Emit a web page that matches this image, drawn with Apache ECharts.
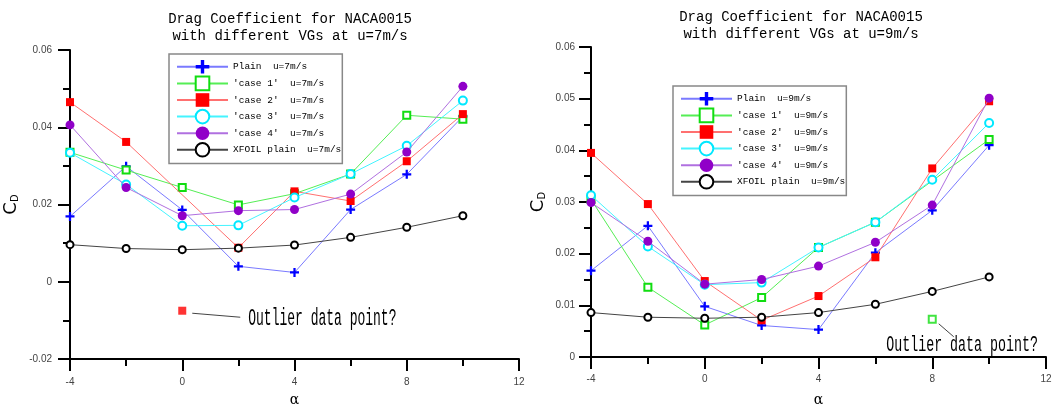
<!DOCTYPE html>
<html>
<head>
<meta charset="utf-8">
<script src="https://cdn.jsdelivr.net/npm/echarts@6/dist/echarts.min.js"></script>
<style>
html,body{margin:0;padding:0;background:#fff;}
#c{width:1055px;height:412px;}
</style>
</head>
<body>
<div id="c"></div>
<script>
// ---- data ----
const alphas = [-4, -2, 0, 2, 4, 6, 8, 10];

const names7 = ["Plain  u=7m/s", "'case 1'  u=7m/s", "'case 2'  u=7m/s", "'case 3'  u=7m/s", "'case 4'  u=7m/s", "XFOIL plain  u=7m/s"];
const plain7 = [0.0169, 0.0299, 0.0186, 0.0040, 0.0024, 0.0187, 0.0278, 0.0428];
const case1_7 = [0.0335, 0.0289, 0.0244, 0.0199, 0.0228, 0.0279, 0.0431, 0.0421];
const case2_7 = [0.0465, 0.0362, null, 0.0088, 0.0234, 0.0209, 0.0312, 0.0434];
const case3_7 = [0.0334, 0.0252, 0.0145, 0.0146, 0.0218, 0.0279, 0.0352, 0.0469];
const case4_7 = [0.0406, 0.0244, 0.0171, 0.0184, 0.0187, 0.0227, 0.0336, 0.0506];
const xfoil7 = [0.0096, 0.0086, 0.0083, 0.0087, 0.0095, 0.0115, 0.0141, 0.0171];
const outlierAlpha7 = [0];
const outlierCd7 = [-0.0075];

const names9 = ["Plain  u=9m/s", "'case 1'  u=9m/s", "'case 2'  u=9m/s", "'case 3'  u=9m/s", "'case 4'  u=9m/s", "XFOIL plain  u=9m/s"];
const plain9 = [0.0167, 0.0254, 0.0098, 0.0061, 0.0053, 0.0202, 0.0284, 0.0410];
const case1_9 = [0.0305, 0.0135, 0.0062, 0.0115, 0.0212, 0.0261, null, 0.0421];
const case2_9 = [0.0395, 0.0296, 0.0147, 0.0071, 0.0118, 0.0193, 0.0365, 0.0495];
const case3_9 = [0.0313, 0.0214, 0.0140, 0.0144, 0.0212, 0.0261, 0.0343, 0.0453];
const case4_9 = [0.0299, 0.0224, 0.0141, 0.0150, 0.0176, 0.0222, 0.0294, 0.0501];
const xfoil9 = [0.0086, 0.0077, 0.0075, 0.0077, 0.0086, 0.0102, 0.0127, 0.0155];
const outlierAlpha9 = [8];
const outlierCd9 = [0.0073];

const titles = ["Drag Coefficient for NACA0015\nwith different VGs at u=7m/s",
                "Drag Coefficient for NACA0015\nwith different VGs at u=9m/s"];
const annotationText = "Outlier data point?";

// ---- styles ----
const PLUS = 'path://M3,0H5V3H8V5H5V8H3V5H0V3H3Z';
const styles = [
  {symbol: PLUS, size: 9, marker: '#0000ff', line: '#7a7aff', bw: 0},
  {symbol: 'emptyRect', size: 7, marker: '#11dd11', line: '#55ee55', bw: 1.5},
  {symbol: 'rect', size: 8, marker: '#ff0000', line: '#ff7070', bw: 0},
  {symbol: 'emptyCircle', size: 8, marker: '#00e8ff', line: '#44f4ff', bw: 1.5},
  {symbol: 'circle', size: 9, marker: '#9000c8', line: '#b070e0', bw: 0},
  {symbol: 'emptyCircle', size: 7, marker: '#000000', line: '#444444', bw: 1}
];

function pairs(xs, ys) {
  const out = [];
  for (let i = 0; i < xs.length; i++) if (ys[i] !== null) out.push([xs[i], ys[i]]);
  return out;
}

function makeSeries(names, arrays, idx) {
  return arrays.map((arr, i) => ({
    type: 'line', name: names[i], xAxisIndex: idx, yAxisIndex: idx,
    data: pairs(alphas, arr),
    symbol: styles[i].symbol, symbolSize: styles[i].size, showSymbol: true,
    itemStyle: {color: styles[i].marker, borderColor: styles[i].marker, borderWidth: styles[i].bw},
    lineStyle: {color: styles[i].line, width: 1},
    emphasis: {disabled: true}, silent: true, z: 3 + i
  }));
}

function outlierSeries(xs, ys, styleIdx, idx) {
  const s = styles[styleIdx];
  return {
    type: 'scatter', xAxisIndex: idx, yAxisIndex: idx,
    data: pairs(xs, ys), symbol: s.symbol, symbolSize: s.size,
    itemStyle: {color: s.marker, borderColor: s.marker, borderWidth: s.bw},
    silent: true, z: 10
  };
}

const labelFont = {color: '#444', fontSize: 10, fontFamily: 'Liberation Sans'};

function xAxis(idx, margin, gap) {
  return {
    type: 'value', gridIndex: idx, min: -4, max: 12, interval: 4,
    axisLine: {show: true, onZero: false, lineStyle: {color: '#000', width: 2}},
    axisTick: {show: true, length: 12, lineStyle: {color: '#000', width: 2}},
    minorTick: {show: true, splitNumber: 2, length: 7, lineStyle: {color: '#000', width: 2}},
    splitLine: {show: false}, minorSplitLine: {show: false},
    axisLabel: Object.assign({margin: margin}, labelFont),
    name: 'α', nameLocation: 'middle', nameGap: gap,
    nameTextStyle: {fontSize: 14, fontFamily: 'DejaVu Serif', color: '#000'}
  };
}

function yAxis(idx, min, max, interval, gap, margin) {
  return {
    type: 'value', gridIndex: idx, min: min, max: max, interval: interval,
    axisLine: {show: true, onZero: false, lineStyle: {color: '#000', width: 2}},
    axisTick: {show: true, length: 12, lineStyle: {color: '#000', width: 2}},
    minorTick: {show: true, splitNumber: 2, length: 7, lineStyle: {color: '#000', width: 2}},
    splitLine: {show: false}, minorSplitLine: {show: false},
    axisLabel: Object.assign({margin: margin, formatter: v => String(+v.toFixed(3))}, labelFont),
    name: '{c|C}{d|D}', nameLocation: 'middle', nameRotate: 90, nameGap: gap,
    nameTextStyle: {
      rich: {
        c: {fontSize: 18, fontFamily: 'DejaVu Sans', color: '#000', lineHeight: 20, verticalAlign: 'bottom'},
        d: {fontSize: 10, fontFamily: 'DejaVu Sans', color: '#000', lineHeight: 20, verticalAlign: 'bottom', padding: [9, 0, 0, 0]}
      }
    }
  };
}

function legend(names, left, top) {
  return {
    orient: 'vertical', left: left, top: top, data: names,
    itemWidth: 51, itemHeight: 17, itemGap: 2,
    padding: [6, 1, 6, 7],
    backgroundColor: '#fff', borderColor: '#888', borderWidth: 1.5,
    selectedMode: false,
    lineStyle: {width: 2},
    textStyle: {fontFamily: 'Liberation Mono', fontSize: 9.5, color: '#000'}
  };
}

const chart = echarts.init(document.getElementById('c'), null, {renderer: 'canvas'});
chart.setOption({
  animation: false,
  backgroundColor: '#fff',
  title: [
    {text: titles[0], left: 285, top: 6, textAlign: 'center',
     textStyle: {fontFamily: 'Liberation Mono', fontSize: 14, fontWeight: 'normal', color: '#000', lineHeight: 17}},
    {text: titles[1], left: 796, top: 4, textAlign: 'center',
     textStyle: {fontFamily: 'Liberation Mono', fontSize: 14, fontWeight: 'normal', color: '#000', lineHeight: 17}}
  ],
  legend: [legend(names7, 169, 54), legend(names9, 673, 86)],
  grid: [
    {left: 67, top: 50, width: 452, height: 321, containLabel: false},
    {left: 591, top: 47, width: 455, height: 320, containLabel: false}
  ],
  xAxis: [xAxis(0, 18, 34), xAxis(1, 17, 36)],
  yAxis: [yAxis(0, -0.02, 0.06, 0.02, 50, 18), yAxis(1, 0, 0.06, 0.01, 44, 16)],
  series: [].concat(
    makeSeries(names7, [plain7, case1_7, case2_7, case3_7, case4_7, xfoil7], 0),
    makeSeries(names9, [plain9, case1_9, case2_9, case3_9, case4_9, xfoil9], 1),
    [outlierSeries(outlierAlpha7, outlierCd7, 2, 0), outlierSeries(outlierAlpha9, outlierCd9, 1, 1)]
  )
});

// annotations anchored to the outlier points
const p7 = chart.convertToPixel({gridIndex: 0}, [outlierAlpha7[0], outlierCd7[0]]);
const p9 = chart.convertToPixel({gridIndex: 1}, [outlierAlpha9[0], outlierCd9[0]]);
chart.setOption({
  graphic: [
    {type: 'line', shape: {x1: p7[0] + 10, y1: p7[1] + 2.5, x2: p7[0] + 58, y2: p7[1] + 6.5},
     style: {stroke: '#444', lineWidth: 1}, silent: true},
    {type: 'text', x: p7[0] + 66, y: p7[1] + 8, scaleY: 1.85,
     style: {text: annotationText, font: '13px "Liberation Mono"', fill: '#000', textVerticalAlign: 'middle'}, silent: true},
    {type: 'line', shape: {x1: p9[0] + 6.5, y1: p9[1] + 4.5, x2: p9[0] + 21.5, y2: p9[1] + 17.5},
     style: {stroke: '#444', lineWidth: 1}, silent: true},
    {type: 'text', x: p9[0] - 46, y: p9[1] + 26, scaleY: 1.65,
     style: {text: annotationText, font: '13.3px "Liberation Mono"', fill: '#000', textVerticalAlign: 'middle'}, silent: true}
  ]
});
</script>
</body>
</html>
